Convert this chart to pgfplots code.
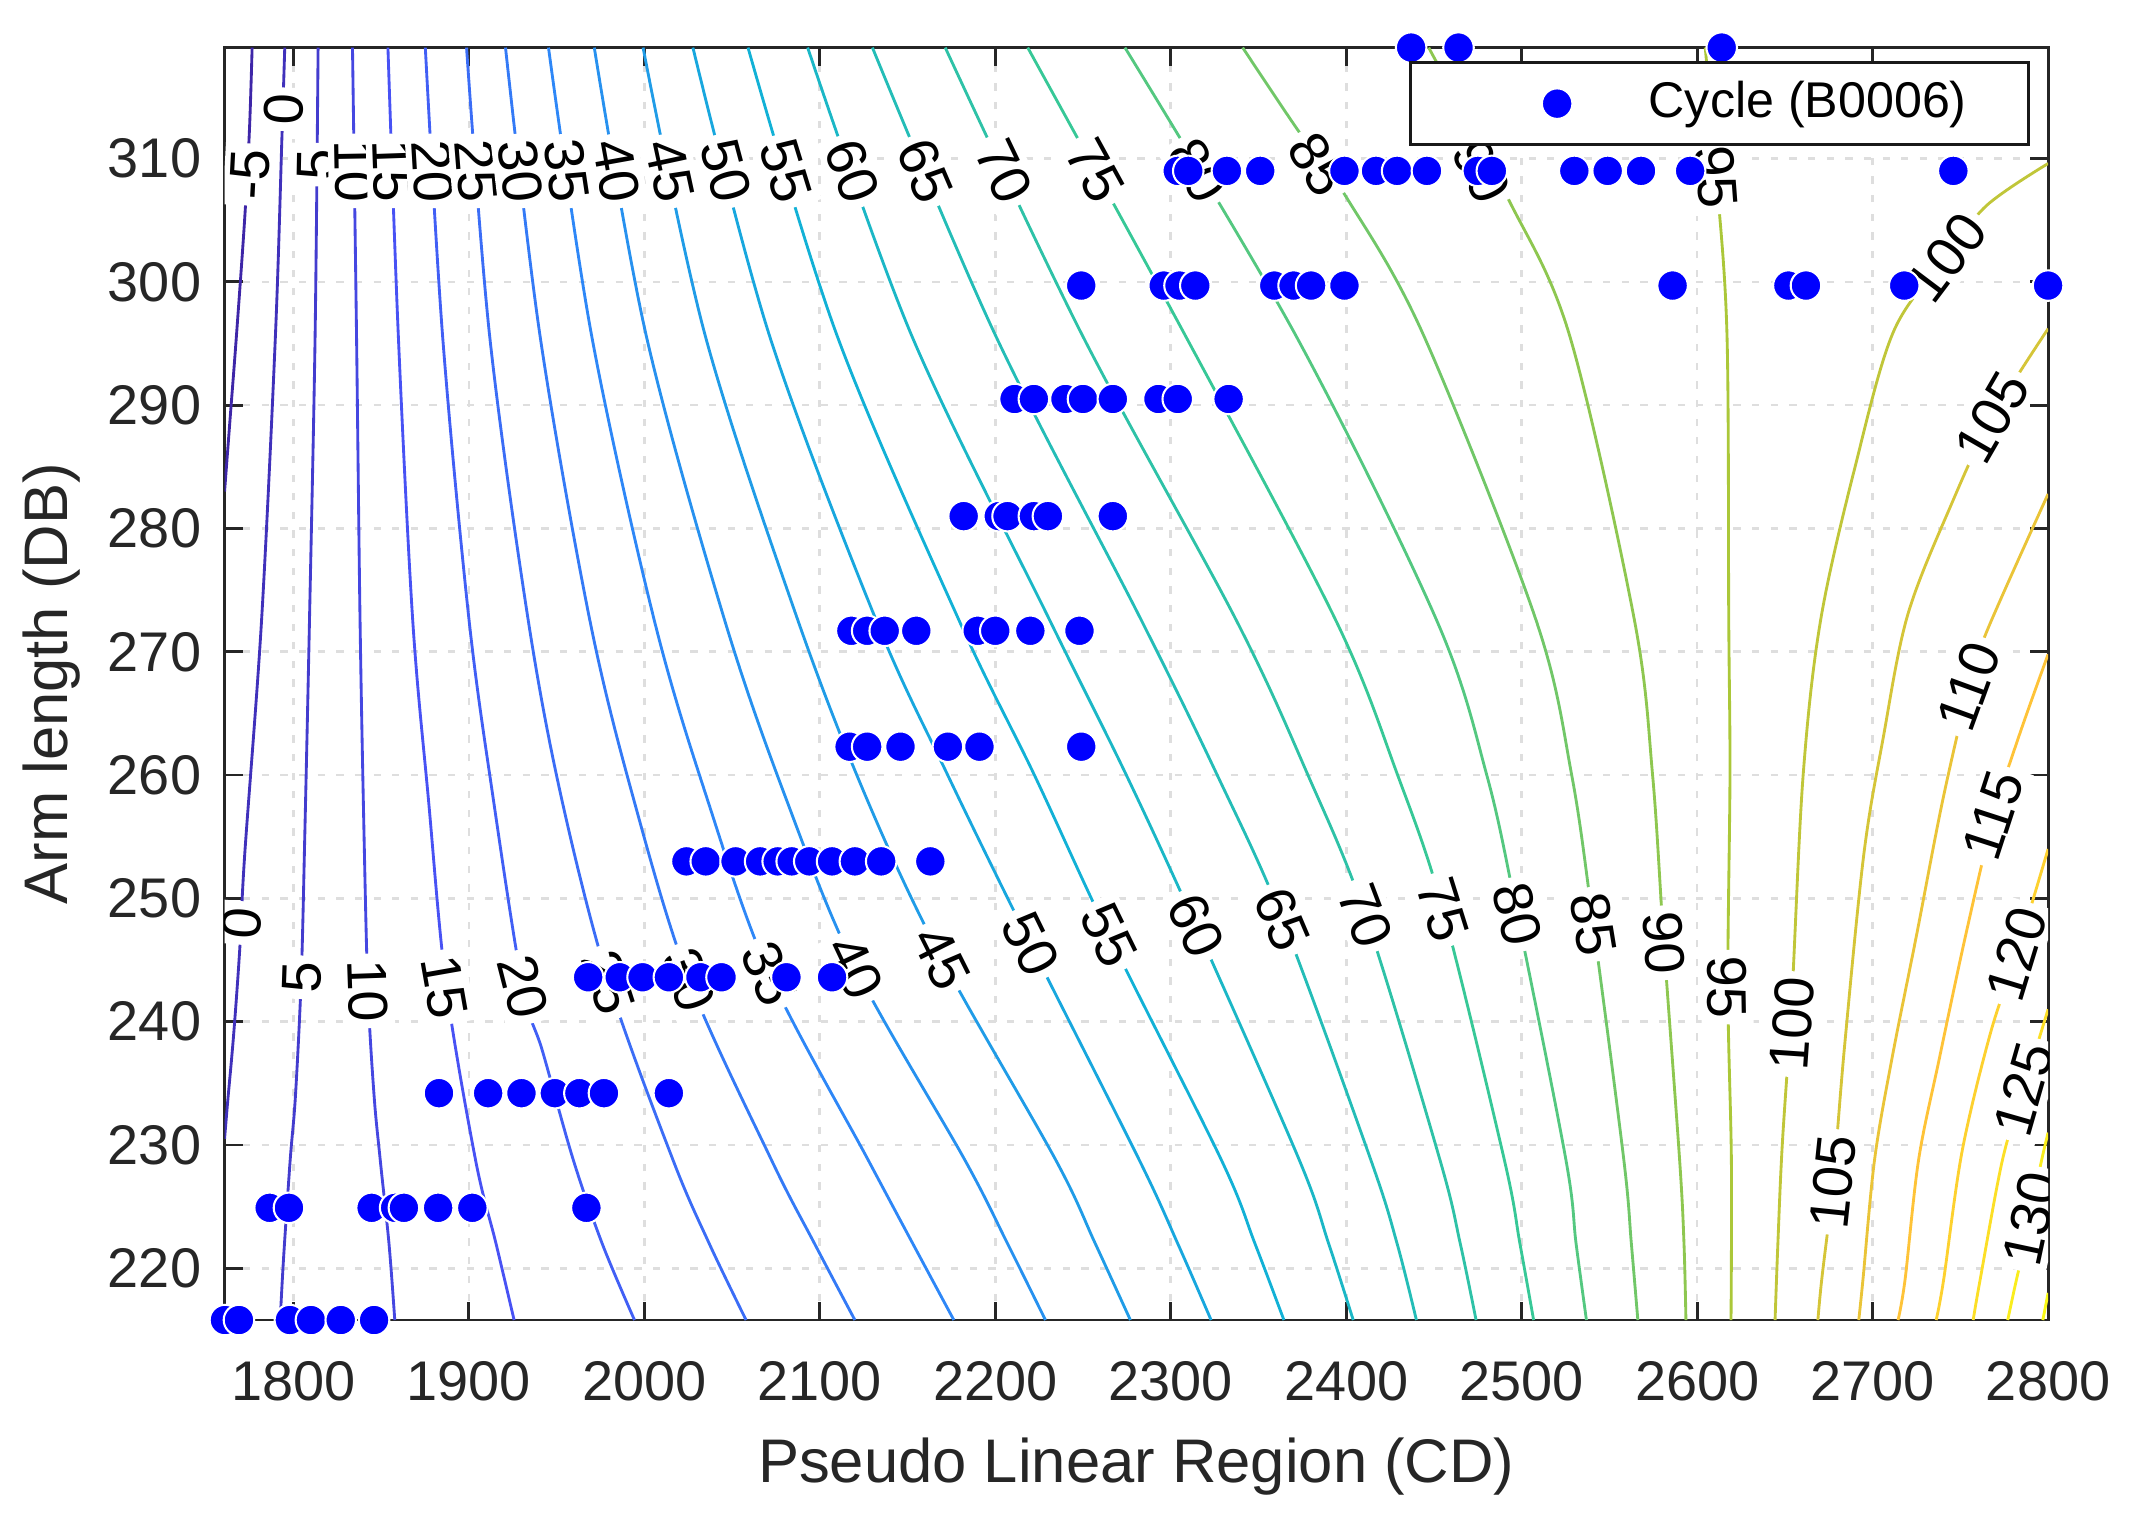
\documentclass[border=0pt]{standalone}
\usepackage{fontspec}
\setmainfont{Liberation Sans}
\usepackage{pgfplots}
\pgfplotsset{compat=1.18}

\definecolor{axgray}{RGB}{38,38,38}
\definecolor{gridgray}{RGB}{222,222,222}
% parula, levels -5 ... 135
\definecolor{lvlm5}{rgb}{0.2422,0.1504,0.6603}
\definecolor{lvl0}{rgb}{0.2519,0.1935,0.7347}
\definecolor{lvl5}{rgb}{0.2616,0.2366,0.8091}
\definecolor{lvl10}{rgb}{0.2713,0.2797,0.8835}
\definecolor{lvl15}{rgb}{0.2810,0.3228,0.9579}
\definecolor{lvl20}{rgb}{0.2554,0.3743,0.9605}
\definecolor{lvl25}{rgb}{0.2298,0.4259,0.9631}
\definecolor{lvl30}{rgb}{0.2042,0.4774,0.9656}
\definecolor{lvl35}{rgb}{0.1786,0.5289,0.9682}
\definecolor{lvl40}{rgb}{0.1512,0.5704,0.9360}
\definecolor{lvl45}{rgb}{0.1238,0.6119,0.9038}
\definecolor{lvl50}{rgb}{0.0963,0.6533,0.8716}
\definecolor{lvl55}{rgb}{0.0689,0.6948,0.8394}
\definecolor{lvl60}{rgb}{0.1057,0.7172,0.7776}
\definecolor{lvl65}{rgb}{0.1425,0.7396,0.7159}
\definecolor{lvl70}{rgb}{0.1793,0.7619,0.6541}
\definecolor{lvl75}{rgb}{0.2161,0.7843,0.5923}
\definecolor{lvl80}{rgb}{0.3301,0.7831,0.4999}
\definecolor{lvl85}{rgb}{0.4441,0.7818,0.4075}
\definecolor{lvl90}{rgb}{0.5580,0.7806,0.3151}
\definecolor{lvl95}{rgb}{0.6720,0.7793,0.2227}
\definecolor{lvl100}{rgb}{0.7533,0.7760,0.2220}
\definecolor{lvl105}{rgb}{0.8345,0.7726,0.2213}
\definecolor{lvl110}{rgb}{0.9158,0.7693,0.2206}
\definecolor{lvl115}{rgb}{0.9970,0.7659,0.2199}
\definecolor{lvl120}{rgb}{0.9920,0.8204,0.1851}
\definecolor{lvl125}{rgb}{0.9870,0.8749,0.1502}
\definecolor{lvl130}{rgb}{0.9819,0.9294,0.1154}
\definecolor{lvl135}{rgb}{0.9769,0.9839,0.0805}

\pgfplotsset{
  cline/.style={smooth, tension=0.55, line width=0.55pt, forget plot, mark=none},
  ptleg/.style={legend image code/.code={
    \path[draw=none,fill=none] (-3.2pt,-4.5pt) rectangle (37.8pt,4.5pt);
    \draw[##1] plot coordinates {(22.1pt,0pt)};}},
}
\tikzset{
  clab/.style={font=\fontsize{10.8}{12}\selectfont, fill=white, inner sep=1.2pt, text=black},
}

\begin{document}
\begin{tikzpicture}
\begin{axis}[
  scale only axis, width=352.4pt, height=245.9pt,
  xmin=1760.8, xmax=2800, ymin=215.8, ymax=319.0,
  xtick={1800,1900,...,2800}, ytick={220,230,...,310},
  tick align=inside, major tick length=3.5pt,
  axis line style={axgray, line width=0.55pt},
  every tick/.style={axgray, line width=0.55pt},
  grid=major,
  major grid style={gridgray, line width=0.5pt, dash pattern=on 1.4pt off 2.2pt},
  /pgf/number format/assume math mode=true,
  /pgf/number format/1000 sep={},
  tick label style={font=\fontsize{10.8}{13}\selectfont, text=axgray},
  xticklabel style={yshift=-4.5pt},
  yticklabel style={xshift=-1pt},
  xlabel={Pseudo Linear Region (CD)},
  ylabel={Arm length (DB)},
  label style={font=\fontsize{11.9}{14}\selectfont, text=axgray},
  xlabel style={at={(axis description cs:0.5,-0.1155)}, anchor=center},
  ylabel style={at={(axis description cs:-0.0948,0.5)}, anchor=center},
  legend cell align=left,
  legend style={at={(0.990,0.9893)}, anchor=north east, draw=black!90,
    line width=0.6pt, fill=white, inner xsep=3pt, inner ysep=1pt,
    font=\fontsize{9.7}{11}\selectfont, text=black,
    nodes={inner sep=2pt, text height=7.5pt, text depth=2.3pt}},
]

% contour lines
\addplot[cline, lvlm5] coordinates {(1776.5,319.0) (1775.0,312.4) (1772.3,305.2) (1767.6,295.7) (1764.0,289.0) (1760.8,283.0)};
\addplot[cline, lvl0] coordinates {(1795.1,319.0) (1793.5,311.8) (1789.8,295.7) (1781.9,272.6) (1772.3,253.6) (1769.5,246.0) (1766.0,239.0) (1762.5,233.4) (1760.8,230.5)};
\addplot[cline, lvl5] coordinates {(1814.1,319.0) (1812.4,295.7) (1809.2,272.6) (1806.5,255.0) (1804.5,243.6) (1801.2,234.0) (1798.2,228.8) (1794.5,221.0) (1792.5,215.8)};
\addplot[cline, lvl10] coordinates {(1833.7,319.0) (1836.0,295.7) (1838.0,272.6) (1840.3,255.0) (1842.5,242.5) (1846.0,234.0) (1849.5,228.8) (1854.5,222.0) (1857.8,215.8)};
\addplot[cline, lvl15] coordinates {(1853.9,319.0) (1859.8,295.7) (1868.0,272.6) (1877.0,258.0) (1887.0,243.0) (1903.8,228.8) (1915.5,222.0) (1925.8,215.8)};
\addplot[cline, lvl20] coordinates {(1875.2,319.0) (1885.0,295.7) (1900.1,272.6) (1914.0,258.0) (1930.7,242.8) (1942.0,237.6) (1959.5,228.8) (1976.0,222.0) (1994.4,215.8)};
\addplot[cline, lvl25] coordinates {(1898.7,319.0) (1911.8,295.7) (1933.8,272.6) (1953.0,258.0) (1979.7,243.2) (2016.3,228.8) (2037.0,222.0) (2058.0,215.8)};
\addplot[cline, lvl30] coordinates {(1920.9,319.0) (1940.5,295.7) (1968.9,272.6) (1994.0,258.0) (2025.4,243.4) (2072.4,228.8) (2097.0,222.0) (2120.0,215.8)};
\addplot[cline, lvl35] coordinates {(1945.4,319.0) (1969.9,295.7) (2005.6,272.6) (2036.0,258.0) (2071.2,243.9) (2127.5,228.8) (2153.0,222.0) (2176.4,215.8)};
\addplot[cline, lvl40] coordinates {(1971.5,319.0) (2001.0,295.7) (2045.7,272.6) (2081.0,258.0) (2120.2,244.4) (2182.6,228.8) (2207.0,222.0) (2228.6,215.8)};
\addplot[cline, lvl45] coordinates {(1999.3,319.0) (2034.6,295.7) (2087.4,272.6) (2127.0,258.0) (2169.2,245.2) (2234.4,228.8) (2257.0,222.0) (2277.0,215.8)};
\addplot[cline, lvl50] coordinates {(2027.7,319.0) (2071.2,295.7) (2132.0,272.6) (2172.9,260.0) (2220.0,246.3) (2282.0,228.8) (2304.0,222.0) (2323.0,215.8)};
\addplot[cline, lvl55] coordinates {(2059.1,319.0) (2109.7,295.7) (2179.2,272.6) (2222.3,260.0) (2264.8,247.0) (2328.8,228.8) (2348.0,222.0) (2364.5,215.8)};
\addplot[cline, lvl60] coordinates {(2093.1,319.0) (2152.2,295.7) (2230.9,272.6) (2274.7,260.0) (2314.3,247.8) (2373.2,228.8) (2390.0,222.0) (2404.0,215.8)};
\addplot[cline, lvl65] coordinates {(2130.0,319.0) (2200.0,295.7) (2283.1,272.6) (2326.5,260.0) (2363.7,248.3) (2414.0,228.8) (2429.0,222.0) (2440.0,215.8)};
\addplot[cline, lvl70] coordinates {(2171.5,319.0) (2249.5,295.7) (2337.2,272.6) (2378.2,260.0) (2411.0,248.6) (2453.4,228.8) (2465.0,222.0) (2474.0,215.8)};
\addplot[cline, lvl75] coordinates {(2218.5,319.0) (2308.1,295.7) (2393.9,272.6) (2429.3,260.0) (2455.1,249.1) (2490.1,228.8) (2499.0,222.0) (2506.8,215.8)};
\addplot[cline, lvl80] coordinates {(2273.9,319.0) (2371.1,295.7) (2451.4,272.6) (2480.1,260.0) (2497.5,248.7) (2525.2,228.8) (2531.0,222.0) (2536.9,215.8)};
\addplot[cline, lvl85] coordinates {(2341.0,319.0) (2372.0,312.4) (2400.8,306.7) (2444.0,295.7) (2508.1,272.6) (2528.5,260.0) (2540.8,247.9) (2558.2,228.8) (2562.5,222.0) (2566.2,215.8)};
\addplot[cline, lvl90] coordinates {(2447.0,319.0) (2491.4,307.0) (2527.2,295.7) (2564.2,272.6) (2574.6,260.0) (2581.0,246.4) (2590.0,228.8) (2592.5,222.0) (2593.6,215.8)};
\addplot[cline, lvl95] coordinates {(2604.6,319.0) (2611.0,308.5) (2617.0,295.7) (2618.0,272.6) (2618.7,260.0) (2617.5,242.8) (2619.5,228.8) (2619.3,215.8)};
\addplot[cline, lvl100] coordinates {(2800.0,309.6) (2765.0,306.2) (2742.0,302.0) (2712.0,296.0) (2690.0,285.0) (2670.4,272.6) (2660.4,260.0) (2654.0,242.0) (2648.5,230.0) (2646.0,222.0) (2644.4,215.8)};
\addplot[cline, lvl105] coordinates {(2800.0,296.2) (2768.0,289.0) (2745.0,282.0) (2720.0,273.0) (2706.0,263.0) (2695.0,253.6) (2684.0,238.0) (2677.5,227.0) (2671.0,219.1) (2668.8,215.8)};
\addplot[cline, lvl110] coordinates {(2800.0,282.8) (2765.2,271.7) (2755.0,267.2) (2740.0,258.0) (2725.0,247.0) (2711.0,237.0) (2701.1,228.8) (2694.5,219.1) (2692.1,215.8)};
\addplot[cline, lvl115] coordinates {(2800.0,269.8) (2783.0,263.0) (2769.0,256.7) (2753.0,247.0) (2738.0,237.0) (2726.2,228.8) (2718.5,219.1) (2714.5,215.8)};
\addplot[cline, lvl120] coordinates {(2800.0,254.0) (2782.0,245.5) (2767.0,239.0) (2751.0,229.5) (2740.5,219.1) (2736.2,215.8)};
\addplot[cline, lvl125] coordinates {(2800.0,241.0) (2786.0,234.5) (2774.0,228.8) (2761.3,219.1) (2757.3,215.8)};
\addplot[cline, lvl130] coordinates {(2800.0,231.0) (2795.6,228.3) (2790.0,224.0) (2782.0,219.1) (2777.0,215.8)};
\addplot[cline, lvl135] coordinates {(2800.0,218.0) (2797.0,215.8)};

% contour labels, upper row
\node[clab, rotate=87] at (axis cs:1775.3,308.7) {-5};
\node[clab, rotate=88] at (axis cs:1794.6,314.0) {0};
\node[clab, rotate=89] at (axis cs:1813.5,309.5) {5};
\node[clab, rotate=-89] at (axis cs:1834.7,309.0) {10};
\node[clab, rotate=-88] at (axis cs:1856.4,309.0) {15};
\node[clab, rotate=-86.6] at (axis cs:1879.4,309.0) {20};
\node[clab, rotate=-85.4] at (axis cs:1904.3,309.0) {25};
\node[clab, rotate=-83.2] at (axis cs:1929.3,309.0) {30};
\node[clab, rotate=-81.5] at (axis cs:1955.9,309.0) {35};
\node[clab, rotate=-79.8] at (axis cs:1984.2,309.0) {40};
\node[clab, rotate=-77.8] at (axis cs:2014.5,309.0) {45};
\node[clab, rotate=-75.1] at (axis cs:2046.4,309.0) {50};
\node[clab, rotate=-72.8] at (axis cs:2080.8,309.0) {55};
\node[clab, rotate=-70.1] at (axis cs:2118.5,309.0) {60};
\node[clab, rotate=-66.8] at (axis cs:2160.0,309.0) {65};
\node[clab, rotate=-64.5] at (axis cs:2205.0,309.0) {70};
\node[clab, rotate=-61.3] at (axis cs:2257.0,309.0) {75};
\node[clab, rotate=-59.3] at (axis cs:2315.6,309.0) {80};
\node[clab, rotate=-58] at (axis cs:2384.0,309.5) {85};
\node[clab, rotate=-64] at (axis cs:2477.0,309.0) {90};
\node[clab, rotate=-85.7] at (axis cs:2611.0,308.5) {95};
\node[clab, rotate=53] at (axis cs:2742.0,302.0) {100};
\node[clab, rotate=60] at (axis cs:2768.0,289.0) {105};
\node[clab, rotate=70] at (axis cs:2755.0,267.2) {110};
\node[clab, rotate=72] at (axis cs:2769.0,256.7) {115};
\node[clab, rotate=73] at (axis cs:2782.0,245.5) {120};
\node[clab, rotate=74] at (axis cs:2786.0,234.5) {125};
\node[clab, rotate=78] at (axis cs:2790.0,224.0) {130};
% contour labels, lower row
\node[clab, rotate=85] at (axis cs:1770.6,248.0) {0};
\node[clab, rotate=88] at (axis cs:1804.9,243.6) {5};
\node[clab, rotate=-88] at (axis cs:1842.5,242.5) {10};
\node[clab, rotate=-80] at (axis cs:1886.0,242.8) {15};
\node[clab, rotate=-75.6] at (axis cs:1930.7,242.8) {20};
\node[clab, rotate=-72] at (axis cs:1979.7,243.2) {25};
\node[clab, rotate=-69.7] at (axis cs:2025.4,243.4) {30};
\node[clab, rotate=-66.8] at (axis cs:2071.2,243.9) {35};
\node[clab, rotate=-64.8] at (axis cs:2120.2,244.4) {40};
\node[clab, rotate=-63.4] at (axis cs:2169.2,245.2) {45};
\node[clab, rotate=-63.9] at (axis cs:2220.0,246.3) {50};
\node[clab, rotate=-63.9] at (axis cs:2264.8,247.0) {55};
\node[clab, rotate=-65.2] at (axis cs:2314.3,247.8) {60};
\node[clab, rotate=-66.9] at (axis cs:2363.7,248.3) {65};
\node[clab, rotate=-69.3] at (axis cs:2411.0,248.6) {70};
\node[clab, rotate=-72.6] at (axis cs:2455.1,249.1) {75};
\node[clab, rotate=-76.5] at (axis cs:2497.5,248.7) {80};
\node[clab, rotate=-80.7] at (axis cs:2540.8,247.9) {85};
\node[clab, rotate=-85.2] at (axis cs:2581.0,246.4) {90};
\node[clab, rotate=-89] at (axis cs:2617.0,242.8) {95};
\node[clab, rotate=86] at (axis cs:2654.0,239.8) {100};
\node[clab, rotate=84] at (axis cs:2677.5,227.0) {105};

% measured points
\addplot[only marks, mark=*, mark size=2.95pt,
  mark options={fill=blue, draw=white, line width=0.4pt}, ptleg] coordinates {
  (2437,319.0) (2464,319.0) (2614,319.0)
  (2304,309.0) (2310,309.0) (2332,309.0) (2351,309.0) (2399,309.0) (2417,309.0)
  (2429,309.0) (2446,309.0) (2475,309.0) (2483,309.0) (2530,309.0) (2549,309.0)
  (2568,309.0) (2596,309.0) (2746,309.0)
  (2249,299.7) (2296,299.7) (2305,299.7) (2314,299.7) (2359,299.7) (2370,299.7)
  (2380,299.7) (2399,299.7) (2586,299.7) (2652,299.7) (2662,299.7) (2718,299.7)
  (2800,299.7)
  (2211,290.5) (2222,290.5) (2240,290.5) (2250,290.5) (2267,290.5) (2293,290.5)
  (2304,290.5) (2333,290.5)
  (2182,281.0) (2202,281.0) (2207,281.0) (2222,281.0) (2230,281.0) (2267,281.0)
  (2118,271.7) (2127,271.7) (2137,271.7) (2155,271.7) (2190,271.7) (2200,271.7)
  (2220,271.7) (2248,271.7)
  (2117,262.3) (2127,262.3) (2146,262.3) (2173,262.3) (2191,262.3) (2249,262.3)
  (2024,253.0) (2035,253.0) (2052,253.0) (2066,253.0) (2076,253.0) (2084,253.0)
  (2094,253.0) (2107,253.0) (2120,253.0) (2135,253.0) (2163,253.0)
  (1968,243.6) (1986,243.6) (1999,243.6) (2014,243.6) (2032,243.6) (2044,243.6)
  (2081,243.6) (2107,243.6)
  (1883,234.2) (1911,234.2) (1930,234.2) (1949,234.2) (1963,234.2) (1977,234.2)
  (2014,234.2)
  (1786.5,224.9) (1797.5,224.9) (1844.6,224.9) (1858,224.9) (1863,224.9)
  (1882.5,224.9) (1902,224.9) (1967,224.9)
  (1761,215.8) (1769,215.8) (1798,215.8) (1810,215.8) (1827,215.8) (1846,215.8)
};
\addlegendentry{Cycle (B0006)\hspace*{6.9pt}}
\end{axis}
\pgfresetboundingbox
\path ([xshift=-43.4pt,yshift=-39.5pt]current axis.south west)
  rectangle ([xshift=16.6pt,yshift=9.2pt]current axis.north east);
\end{tikzpicture}
\end{document}
